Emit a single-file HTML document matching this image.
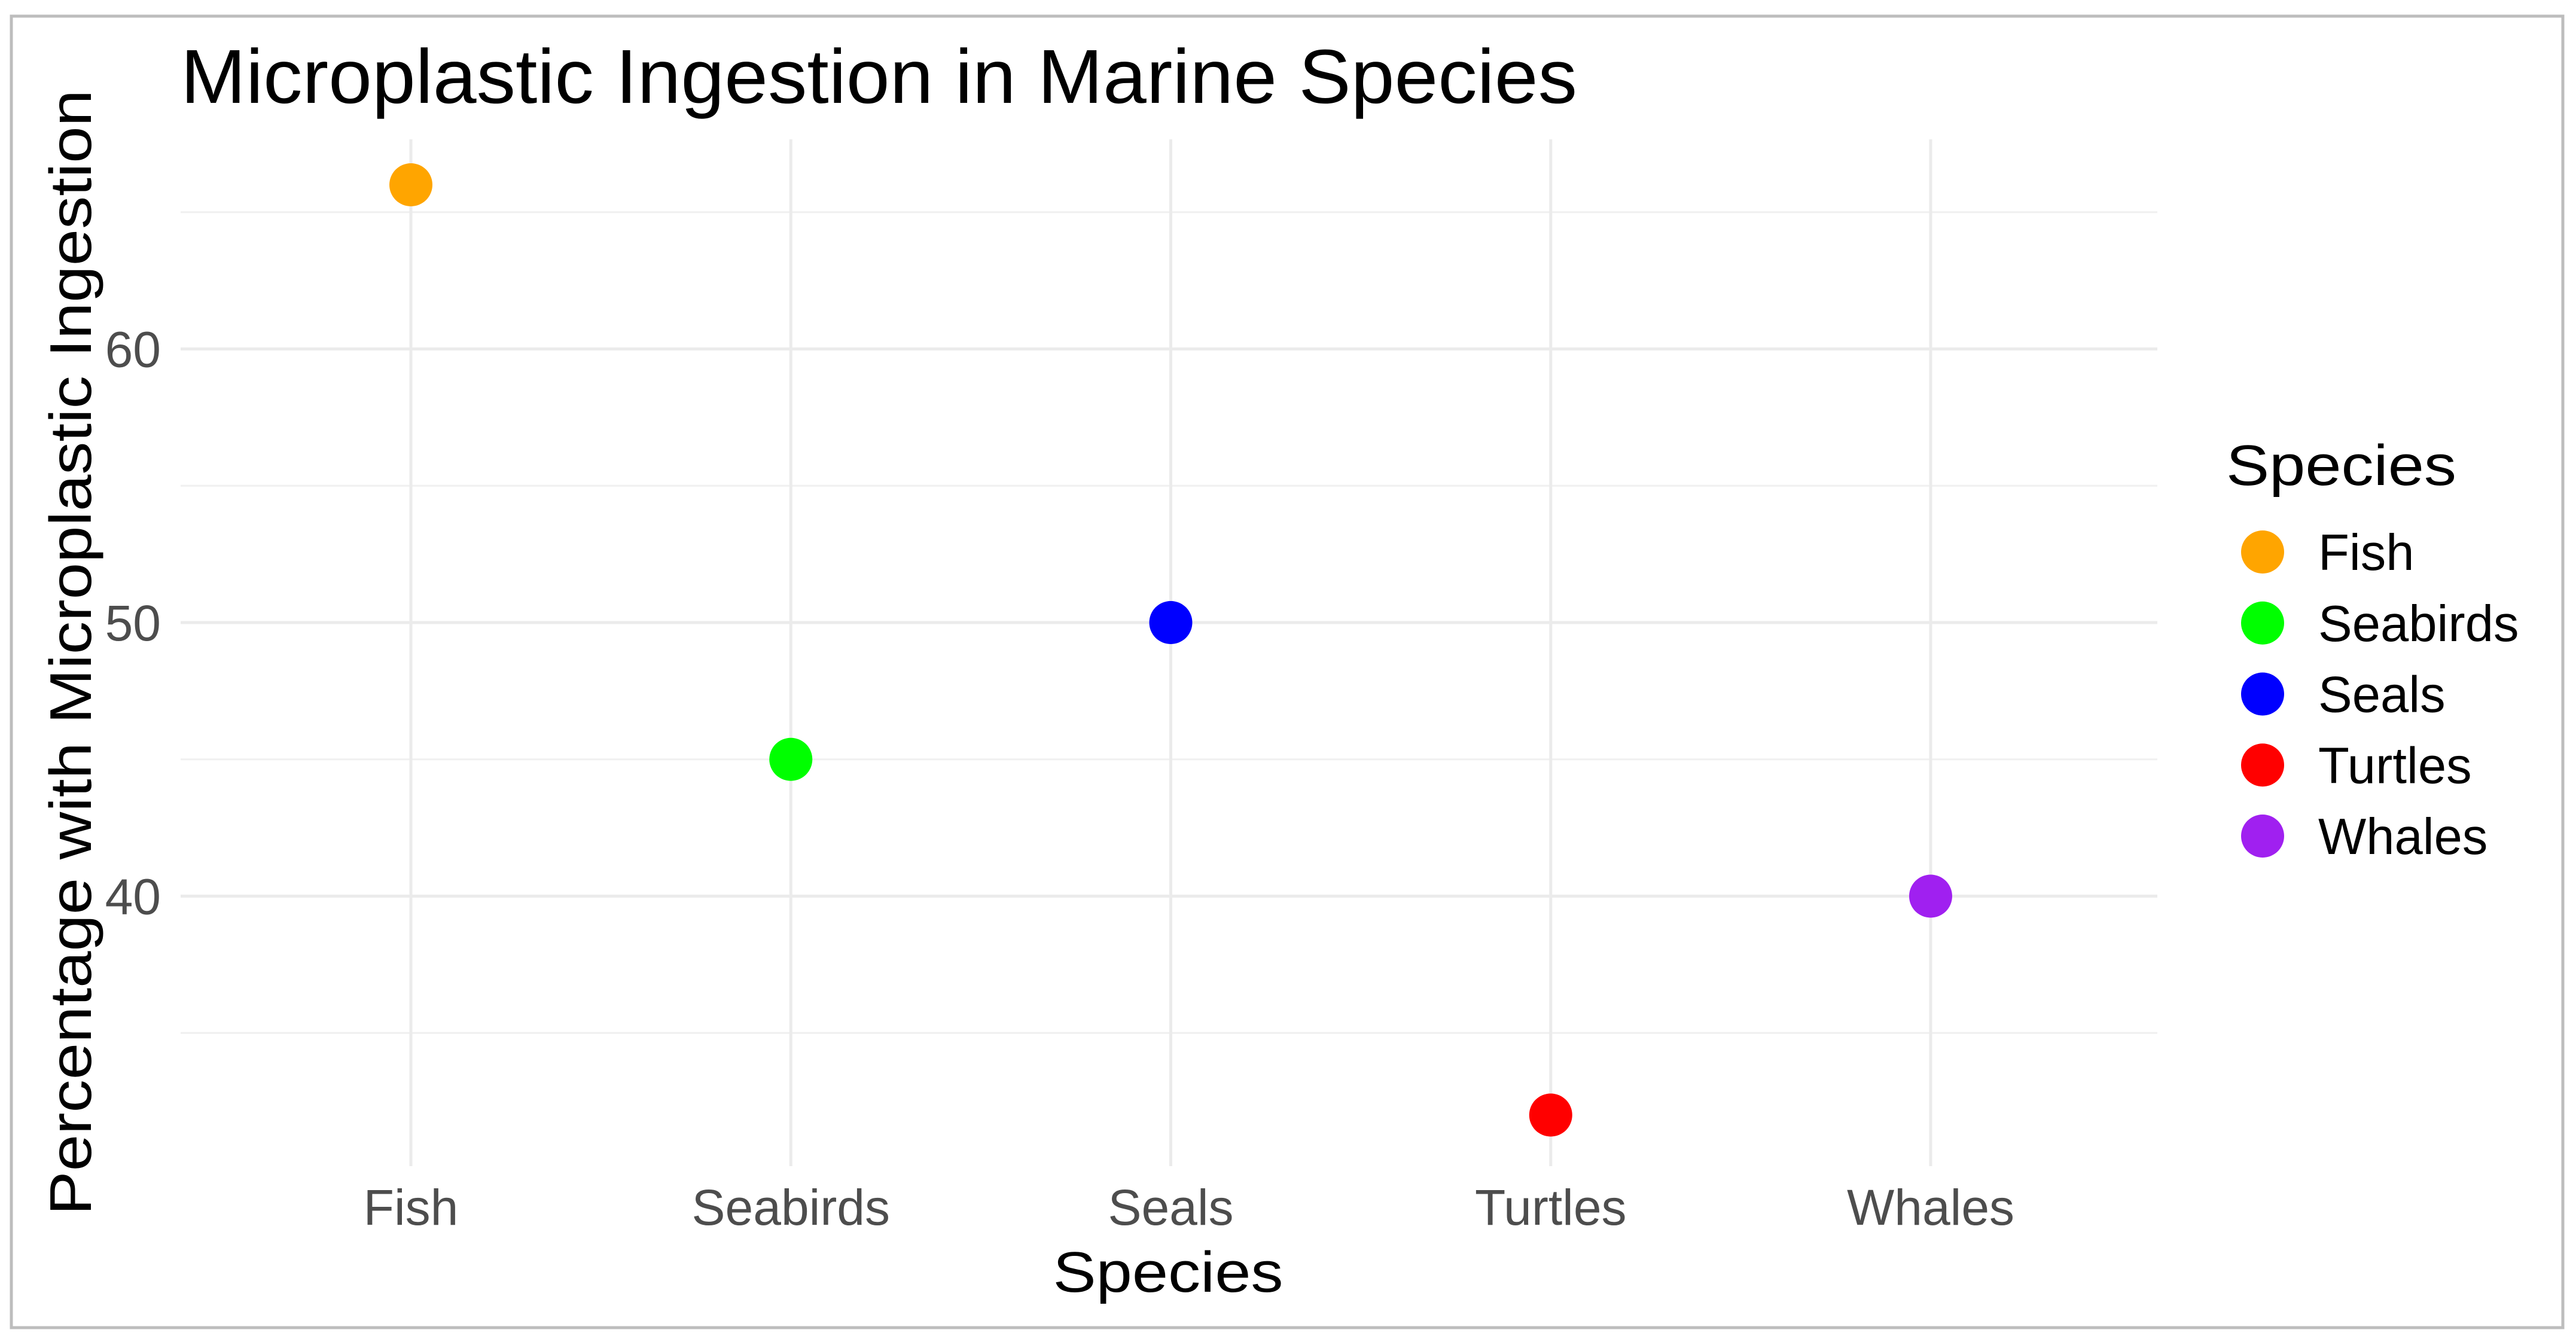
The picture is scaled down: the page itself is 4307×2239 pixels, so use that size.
<!DOCTYPE html>
<html><head><meta charset="utf-8"><style>
html,body{margin:0;padding:0;background:#fff;}
svg{display:block;font-family:"Liberation Sans",Arial,sans-serif;}
</style></head><body>
<svg id="chart" width="4307" height="2239" viewBox="0 0 4307 2239">
<rect x="19" y="27" width="4266" height="2193" fill="#fff" stroke="#bdbdbd" stroke-width="5"/>
<g id="grid"></g>
<g id="points"></g>
<g id="xlabels"></g>
<g id="ylabels"></g>
<text x="302" y="172" font-size="128" textLength="2335" lengthAdjust="spacingAndGlyphs" fill="#000">Microplastic Ingestion in Marine Species</text>
<text x="1953" y="2160" font-size="96" textLength="385" lengthAdjust="spacingAndGlyphs" text-anchor="middle" fill="#000">Species</text>
<text transform="translate(152,1091) rotate(-90)" font-size="98" textLength="1882" lengthAdjust="spacingAndGlyphs" text-anchor="middle" fill="#000">Percentage with Microplastic Ingestion</text>
<g id="legend">
<text x="3722" y="811" font-size="96" textLength="385" lengthAdjust="spacingAndGlyphs" fill="#000">Species</text>
</g>
</svg>
<script>
const categories = ["Fish","Seabirds","Seals","Turtles","Whales"];
const values = [66,45,50,32,40];
const colors = ["#FFA500","#00FF00","#0000FF","#FF0000","#A020F0"];
const majorTicks = [40,50,60];
const minorTicks = [35,45,55,65];

const NS="http://www.w3.org/2000/svg";
const L=302,R=3607,T=233,B=1950;
function xPos(i){return 687+i*635.25;}
function yPos(v){return 1041-(v-50)*45.75;}
function mk(tag,attrs,parent){const e=document.createElementNS(NS,tag);for(const k in attrs)e.setAttribute(k,attrs[k]);parent.appendChild(e);return e;}
const grid=document.getElementById('grid');
minorTicks.forEach(v=>{
  const l=mk('line',{x1:L,x2:R,y1:yPos(v),y2:yPos(v),stroke:'#f0f0f0','stroke-width':3},grid);
  
  
});
majorTicks.forEach(v=>{
  const l=mk('line',{x1:L,x2:R,y1:yPos(v),y2:yPos(v),stroke:'#ebebeb','stroke-width':5},grid);
  
  
  const t=mk('text',{x:269,y:yPos(v)+30,'font-size':84,'text-anchor':'end',fill:'#4d4d4d'},document.getElementById('ylabels'));
  t.textContent=v;
  
  
});
categories.forEach((c,i)=>{
  const l=mk('line',{x1:xPos(i),x2:xPos(i),y1:T,y2:B,stroke:'#ebebeb','stroke-width':5},grid);
  
  
  const t=mk('text',{x:xPos(i),y:2048,'font-size':84,'text-anchor':'middle',fill:'#4d4d4d'},document.getElementById('xlabels'));
  t.textContent=c;
  
  
  const p=mk('circle',{cx:xPos(i),cy:yPos(values[i]),r:36,fill:colors[i]},document.getElementById('points'));
  
  
  const lg=document.getElementById('legend');
  const ly=923+i*118.75;
  const lc=mk('circle',{cx:3783,cy:ly,r:36,fill:colors[i]},lg);
  
  
  const lt=mk('text',{x:3876,y:ly+30,'font-size':85,fill:'#000'},lg);
  lt.textContent=c;
  
  
});
</script>
</body></html>
